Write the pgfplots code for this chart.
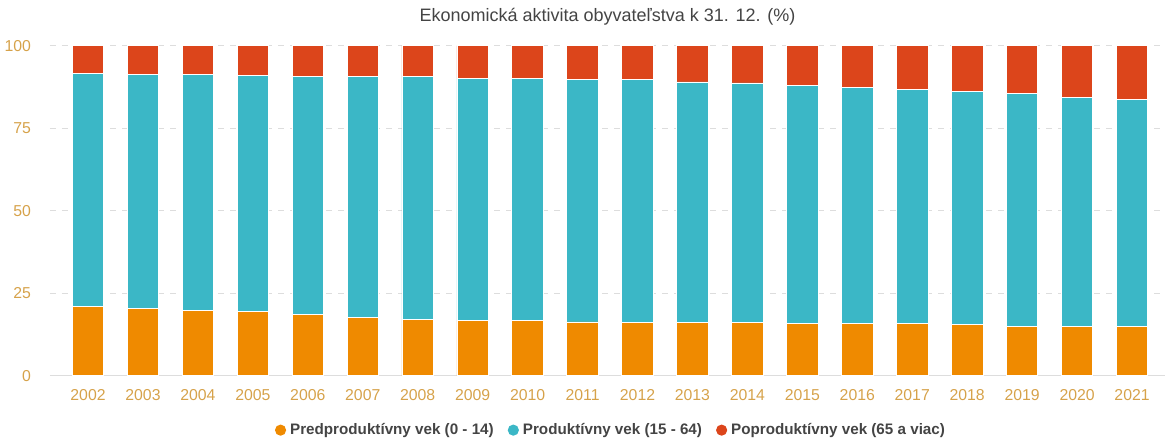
\documentclass[border=0pt]{standalone}
\usepackage{pgfplots}
\pgfplotsset{compat=1.18}
\usepackage{pgfplotstable}
\usepackage{fontspec}
\setmainfont{Liberation Sans}
\definecolor{cPre}{HTML}{EF8A00}
\definecolor{cProd}{HTML}{3BB7C6}
\definecolor{cPost}{HTML}{DC451B}
\definecolor{cTick}{HTML}{D6A24A}
\definecolor{cGrid}{HTML}{DDDDDD}
\definecolor{cTitle}{HTML}{444444}
\pgfplotstableread{
x pre prod post
0 21.0 70.7 8.3
1 20.3 71.1 8.6
2 19.7 71.7 8.6
3 19.4 71.6 9.0
4 18.5 72.1 9.4
5 17.7 72.9 9.4
6 17.0 73.6 9.4
7 16.7 73.5 9.8
8 16.7 73.5 9.8
9 16.3 73.6 10.1
10 16.1 73.6 10.3
11 16.1 72.9 11.0
12 16.1 72.6 11.3
13 15.7 72.3 12.0
14 15.7 71.7 12.6
15 15.7 71.0 13.3
16 15.4 70.6 14.0
17 14.9 70.5 14.6
18 14.9 69.4 15.7
19 14.9 68.7 16.4
}\data
\begin{document}
\begin{tikzpicture}
\path[use as bounding box] (0,0) rectangle (582.5pt,221.5pt);
\begin{axis}[
  at={(25pt,33.65pt)}, anchor=south west,
  scale only axis, width=557.5pt, height=165pt,
  ybar stacked, bar width=15.75pt,
  xmin=-0.692, xmax=19.6, ymin=0, ymax=100,
  xtick={0,...,19},
  xticklabels={2002,2003,2004,2005,2006,2007,2008,2009,2010,2011,2012,2013,2014,2015,2016,2017,2018,2019,2020,2021},
  ytick={25,50,75,100},
  extra y ticks={0},
  extra y tick style={grid style={solid, cGrid, line width=0.6pt}},
  ymajorgrids,
  grid style={dashed, cGrid, line width=0.5pt},
  axis line style={draw=none},
  major tick length=0pt,
  tick style={draw=none},
  /pgf/number format/assume math mode=true,
  ticklabel style={color=cTick, font=\fontsize{7.9}{9.5}\selectfont},
  yticklabel style={xshift=-6pt},
  xticklabel style={yshift=-3.5pt},
  title={Ekonomická aktivita obyvateľstva k 31. 12. (\%)},
  title style={at={(0.5,1)}, anchor=center, yshift=8.4pt, font=\fontsize{9}{11}\selectfont, text=cTitle},
  legend columns=3,
  legend style={at={(0.504,-0.165)}, anchor=center, draw=none, fill=none,
    font=\bfseries\fontsize{7.6}{9}\selectfont, text=cTitle,
    /tikz/every even column/.append style={column sep=5pt}},
  legend image code/.code={\fill[#1,draw=none] (0.15cm,0cm) circle (2.8pt);},
  every axis plot/.append style={draw=white, line width=0.4pt},
]
\addplot[fill=cPre] table[x=x, y=pre] {\data};
\addplot[fill=cProd] table[x=x, y=prod] {\data};
\addplot[fill=cPost] table[x=x, y=post] {\data};
\legend{Predproduktívny vek (0 - 14), Produktívny vek (15 - 64), Poproduktívny vek (65 a viac)}
\end{axis}
\end{tikzpicture}
\end{document}
